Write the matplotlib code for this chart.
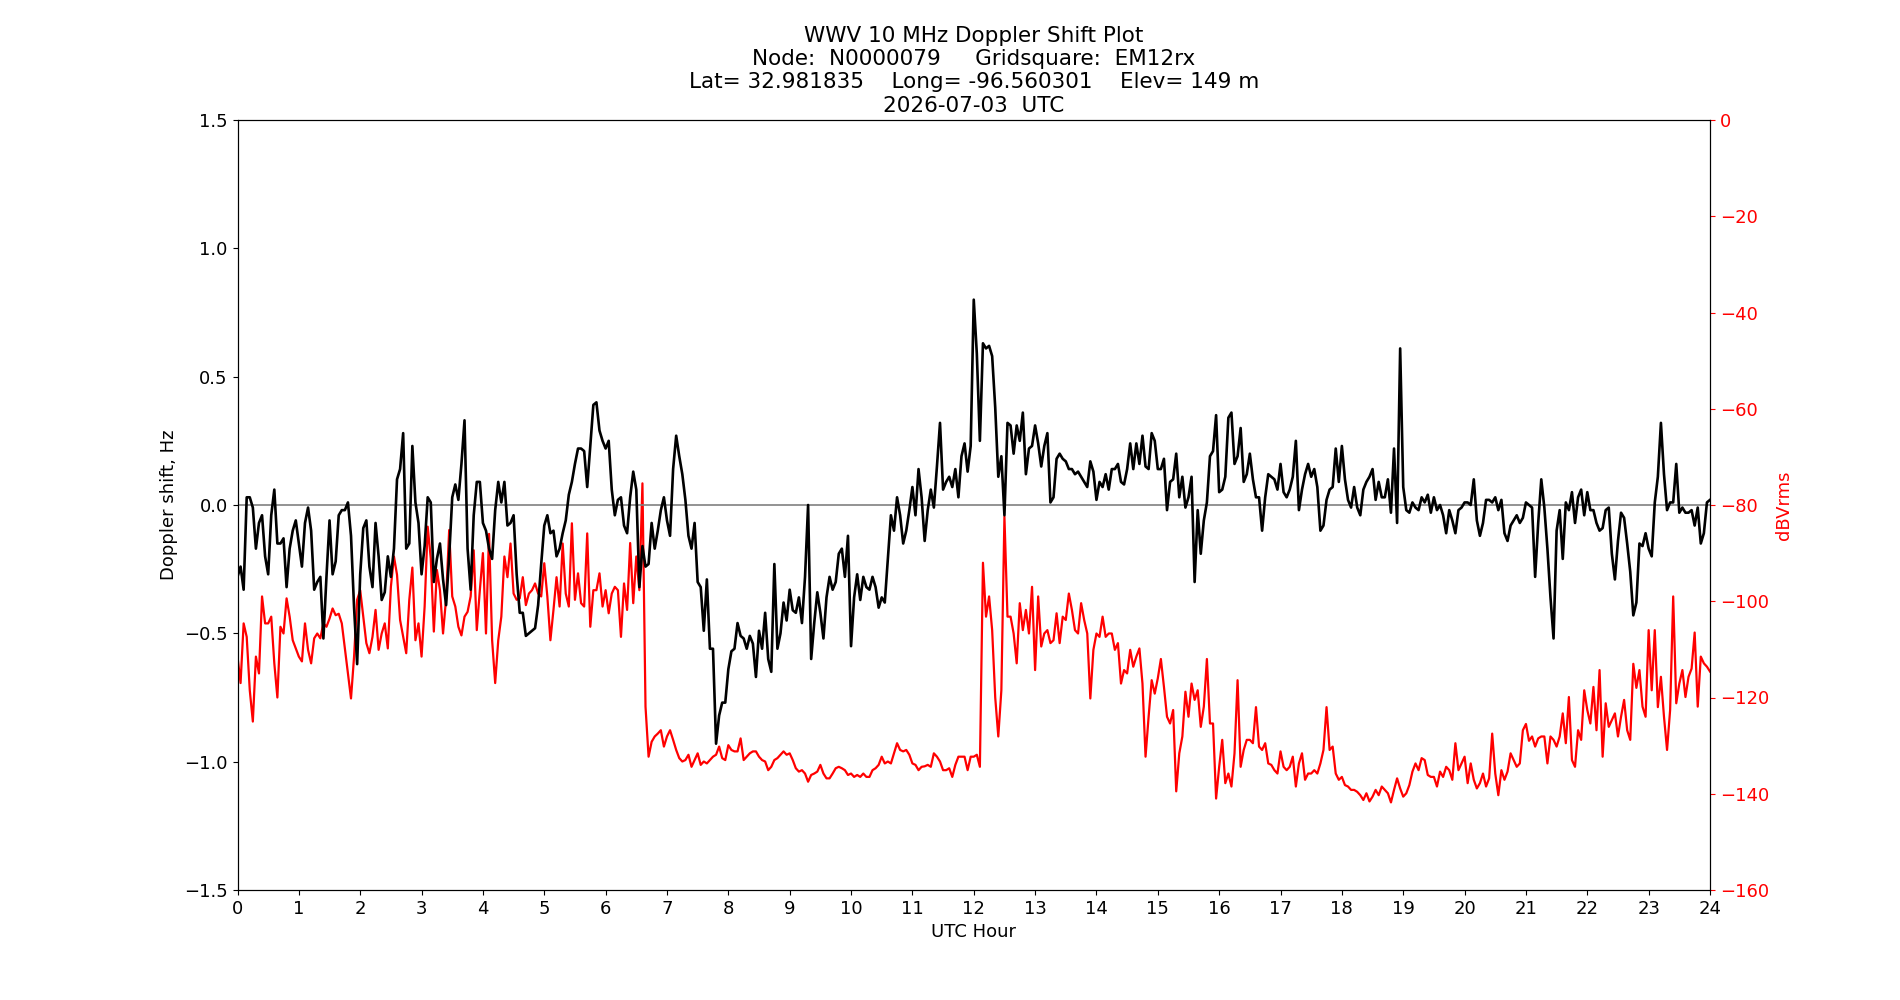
import matplotlib
matplotlib.use("Agg")
import matplotlib.pyplot as plt
import numpy as np

# UTC hour grid, one reading every 0.05 h (3 minutes)
hours = np.round(np.arange(0, 481) * 0.05, 2)

# Doppler shift, Hz
doppler = [
    # 0 - 3 h
    -0.28, -0.24, -0.33, 0.03, 0.03, -0.01, -0.17, -0.07, -0.04, -0.20,
    -0.27, -0.04, 0.06, -0.15, -0.15, -0.13, -0.32, -0.17, -0.10, -0.06,
    -0.15, -0.24, -0.07, -0.01, -0.10, -0.33, -0.30, -0.28, -0.52, -0.28,
    -0.06, -0.27, -0.22, -0.04, -0.02, -0.02, 0.01, -0.12, -0.40, -0.62,
    -0.27, -0.09, -0.06, -0.24, -0.32, -0.07, -0.20, -0.37, -0.34, -0.20,
    -0.28, -0.17, 0.10, 0.14, 0.28, -0.17, -0.15, 0.23, 0.01, -0.07,
    # 3 - 6 h
    -0.27, -0.16, 0.03, 0.01, -0.30, -0.21, -0.15, -0.29, -0.39, -0.20,
    0.03, 0.08, 0.02, 0.16, 0.33, -0.17, -0.33, -0.04, 0.09, 0.09,
    -0.07, -0.10, -0.17, -0.21, -0.02, 0.09, 0.01, 0.09, -0.08, -0.07,
    -0.04, -0.27, -0.42, -0.42, -0.51, -0.50, -0.49, -0.48, -0.39, -0.23,
    -0.08, -0.04, -0.11, -0.10, -0.20, -0.17, -0.11, -0.06, 0.04, 0.09,
    0.16, 0.22, 0.22, 0.21, 0.07, 0.23, 0.39, 0.40, 0.29, 0.25,
    # 6 - 9 h
    0.22, 0.25, 0.06, -0.04, 0.02, 0.03, -0.08, -0.11, 0.03, 0.13,
    0.06, -0.32, -0.16, -0.24, -0.23, -0.07, -0.17, -0.10, -0.02, 0.03,
    -0.06, -0.12, 0.14, 0.27, 0.19, 0.12, 0.02, -0.12, -0.17, -0.07,
    -0.30, -0.32, -0.49, -0.29, -0.56, -0.56, -0.93, -0.82, -0.77, -0.77,
    -0.64, -0.57, -0.56, -0.46, -0.51, -0.52, -0.56, -0.51, -0.54, -0.67,
    -0.49, -0.56, -0.42, -0.60, -0.65, -0.23, -0.56, -0.50, -0.38, -0.45,
    # 9 - 12 h
    -0.33, -0.41, -0.42, -0.36, -0.46, -0.28, 0.00, -0.60, -0.46, -0.34,
    -0.42, -0.52, -0.36, -0.28, -0.33, -0.30, -0.19, -0.17, -0.28, -0.12,
    -0.55, -0.36, -0.27, -0.37, -0.28, -0.32, -0.33, -0.28, -0.32, -0.40,
    -0.36, -0.38, -0.21, -0.04, -0.10, 0.03, -0.04, -0.15, -0.10, -0.02,
    0.07, -0.04, 0.14, 0.03, -0.14, -0.02, 0.06, -0.01, 0.15, 0.32,
    0.06, 0.09, 0.11, 0.07, 0.14, 0.03, 0.19, 0.24, 0.13, 0.23,
    # 12 - 15 h
    0.80, 0.59, 0.25, 0.63, 0.61, 0.62, 0.58, 0.38, 0.11, 0.19,
    -0.04, 0.32, 0.31, 0.20, 0.31, 0.25, 0.36, 0.12, 0.22, 0.23,
    0.31, 0.24, 0.15, 0.23, 0.28, 0.01, 0.03, 0.18, 0.20, 0.18,
    0.17, 0.14, 0.14, 0.12, 0.13, 0.11, 0.09, 0.07, 0.17, 0.13,
    0.02, 0.09, 0.07, 0.12, 0.06, 0.14, 0.14, 0.16, 0.09, 0.08,
    0.14, 0.24, 0.14, 0.24, 0.16, 0.27, 0.15, 0.14, 0.28, 0.25,
    # 15 - 18 h
    0.14, 0.14, 0.18, -0.02, 0.09, 0.10, 0.20, 0.03, 0.11, -0.01,
    0.03, 0.11, -0.30, -0.02, -0.19, -0.06, 0.01, 0.19, 0.21, 0.35,
    0.05, 0.06, 0.11, 0.34, 0.36, 0.16, 0.19, 0.30, 0.09, 0.12,
    0.20, 0.10, 0.03, 0.03, -0.10, 0.03, 0.12, 0.11, 0.10, 0.06,
    0.16, 0.05, 0.03, 0.06, 0.11, 0.25, -0.02, 0.06, 0.12, 0.16,
    0.11, 0.14, 0.07, -0.10, -0.08, 0.02, 0.06, 0.07, 0.22, 0.09,
    # 18 - 21 h
    0.23, 0.10, 0.02, -0.01, 0.07, -0.01, -0.04, 0.06, 0.09, 0.11,
    0.14, 0.02, 0.09, 0.03, 0.03, 0.10, -0.03, 0.22, -0.07, 0.61,
    0.07, -0.02, -0.03, 0.01, -0.01, -0.02, 0.03, 0.01, 0.04, -0.03,
    0.03, -0.02, 0.00, -0.04, -0.11, -0.02, -0.06, -0.11, -0.02, -0.01,
    0.01, 0.01, 0.00, 0.10, -0.06, -0.12, -0.07, 0.02, 0.02, 0.01,
    0.03, -0.02, 0.02, -0.11, -0.14, -0.08, -0.06, -0.04, -0.07, -0.05,
    # 21 - 24 h
    0.01, 0.00, -0.01, -0.28, -0.07, 0.10, -0.01, -0.17, -0.36, -0.52,
    -0.10, -0.02, -0.21, 0.01, -0.02, 0.05, -0.07, 0.03, 0.06, -0.04,
    0.05, -0.02, -0.02, -0.07, -0.10, -0.09, -0.02, -0.01, -0.19, -0.29,
    -0.14, -0.03, -0.05, -0.15, -0.26, -0.43, -0.38, -0.15, -0.16, -0.11,
    -0.17, -0.20, 0.01, 0.11, 0.32, 0.12, -0.02, 0.01, 0.01, 0.16,
    -0.03, -0.01, -0.03, -0.03, -0.02, -0.08, -0.01, -0.15, -0.11, 0.01,
    0.02,
]

# received signal level, dBVrms
level = [
    # 0 - 3 h
    -111.5, -117.0, -104.6, -107.4, -118.5, -125.0, -111.5, -115.0, -99.0, -104.6,
    -104.6, -103.2, -112.9, -120.0, -105.3, -106.7, -99.4, -103.2, -108.1, -109.8,
    -111.5, -112.5, -104.6, -110.1, -112.9, -107.7, -106.7, -107.7, -104.6, -105.3,
    -103.6, -101.5, -102.9, -102.6, -104.6, -109.8, -115.0, -120.2, -111.5, -99.7,
    -97.7, -103.2, -108.7, -110.8, -107.4, -101.8, -110.1, -106.7, -104.6, -109.8,
    -97.0, -90.7, -94.5, -103.9, -107.4, -110.8, -99.7, -93.0, -108.1, -104.6,
    # 3 - 6 h
    -111.5, -101.1, -84.5, -91.1, -106.3, -93.5, -97.7, -106.7, -99.4, -85.2,
    -99.0, -101.1, -105.3, -107.1, -103.2, -102.2, -99.0, -89.4, -106.0, -97.7,
    -90.0, -106.7, -86.0, -108.1, -117.0, -108.1, -103.2, -90.7, -95.0, -88.0,
    -98.4, -99.7, -99.4, -95.0, -100.8, -98.4, -97.7, -96.3, -98.4, -99.0,
    -92.1, -99.0, -108.1, -101.8, -95.0, -101.1, -88.0, -98.4, -101.1, -83.8,
    -99.7, -94.2, -100.4, -101.1, -85.9, -105.3, -97.7, -97.7, -94.2, -101.1,
    # 6 - 9 h
    -97.7, -102.5, -98.4, -97.0, -97.7, -107.4, -96.3, -101.8, -87.9, -100.4,
    -90.7, -97.7, -75.5, -121.9, -132.3, -129.2, -128.1, -127.5, -126.8, -130.2,
    -128.1, -126.8, -128.8, -130.9, -132.6, -133.3, -133.0, -131.9, -134.4, -133.0,
    -131.6, -134.0, -133.3, -133.7, -133.0, -132.3, -131.9, -130.2, -132.6, -133.0,
    -129.9, -130.9, -131.2, -131.2, -128.5, -133.0, -132.3, -131.6, -131.2, -131.2,
    -132.3, -133.0, -133.3, -135.1, -134.4, -133.0, -132.6, -131.9, -131.2, -131.9,
    # 9 - 12 h
    -131.6, -133.0, -134.7, -135.4, -135.1, -135.8, -137.5, -136.1, -135.8, -135.4,
    -134.0, -135.8, -136.8, -136.8, -135.8, -134.7, -134.4, -134.7, -135.1, -136.1,
    -135.8, -136.5, -136.1, -136.5, -135.8, -136.5, -136.5, -135.1, -134.7, -134.0,
    -132.3, -133.7, -133.3, -133.7, -131.6, -129.5, -130.9, -131.2, -130.9, -131.9,
    -133.7, -134.0, -135.1, -134.4, -134.3, -134.0, -134.4, -131.6, -132.3, -133.3,
    -135.1, -135.1, -134.7, -136.5, -134.0, -132.3, -132.3, -132.3, -135.1, -132.3,
    # 12 - 15 h
    -132.3, -131.9, -134.4, -92.0, -103.2, -99.0, -106.0, -120.0, -128.1, -118.5,
    -82.4, -103.2, -103.2, -106.7, -112.9, -100.4, -106.0, -101.8, -106.7, -97.0,
    -114.3, -99.0, -109.4, -106.7, -106.0, -108.7, -108.1, -102.5, -108.7, -103.2,
    -103.9, -98.4, -101.8, -106.0, -106.7, -100.4, -103.9, -106.7, -120.2, -110.1,
    -106.7, -107.4, -103.2, -107.4, -106.7, -106.7, -110.1, -108.7, -117.1, -114.3,
    -115.0, -110.1, -113.6, -111.5, -109.8, -117.1, -132.3, -124.0, -116.4, -119.2,
    # 15 - 18 h
    -116.0, -112.0, -117.8, -124.0, -125.4, -122.6, -139.5, -131.6, -128.1, -118.8,
    -124.0, -117.1, -120.5, -118.5, -126.1, -121.9, -112.0, -125.4, -125.4, -141.0,
    -134.4, -128.8, -137.8, -135.8, -138.5, -131.6, -116.4, -134.4, -130.9, -128.8,
    -128.8, -129.5, -122.0, -130.2, -130.9, -129.5, -133.7, -134.0, -135.1, -135.8,
    -131.2, -134.4, -135.1, -134.4, -132.3, -138.5, -133.7, -131.6, -137.1, -135.8,
    -135.8, -135.1, -135.8, -133.7, -130.9, -122.0, -130.9, -130.2, -135.8, -137.1,
    # 18 - 21 h
    -136.5, -138.2, -138.5, -139.2, -139.2, -139.6, -140.3, -141.3, -139.9, -141.6,
    -140.6, -139.2, -140.3, -138.5, -139.2, -139.9, -141.8, -139.2, -136.8, -138.9,
    -140.6, -139.9, -138.2, -135.4, -133.7, -135.1, -132.6, -133.0, -136.1, -136.5,
    -136.5, -138.5, -135.4, -136.5, -134.4, -135.1, -137.1, -129.5, -135.1, -133.7,
    -132.3, -137.8, -133.7, -137.1, -138.9, -137.8, -135.8, -138.5, -136.8, -127.5,
    -135.8, -140.3, -135.1, -137.1, -135.4, -131.6, -133.0, -134.4, -133.7, -126.8,
    # 21 - 24 h
    -125.5, -129.0, -128.1, -130.2, -128.5, -128.1, -128.1, -133.7, -128.1, -128.8,
    -130.2, -128.1, -123.3, -129.5, -119.9, -133.0, -134.4, -126.8, -128.8, -118.5,
    -122.6, -125.4, -117.8, -126.8, -114.3, -132.3, -121.2, -126.1, -124.7, -123.3,
    -128.1, -124.0, -120.5, -126.8, -128.8, -113.0, -118.0, -114.3, -121.9, -124.0,
    -106.0, -118.5, -106.0, -122.0, -115.7, -124.0, -130.9, -122.6, -99.0, -121.2,
    -117.1, -114.3, -119.9, -115.7, -114.0, -106.5, -121.9, -111.5, -112.9, -113.6,
    -114.6,
]

title = ("WWV 10 MHz Doppler Shift Plot\n"
         "Node:  N0000079     Gridsquare:  EM12rx\n"
         "Lat= 32.981835    Long= -96.560301    Elev= 149 m\n"
         "2026-07-03  UTC")

plt.rcParams['font.size'] = 13

fig, ax = plt.subplots(figsize=(19, 10), dpi=100)
ax2 = ax.twinx()

ax2.plot(hours, level, color='red', linewidth=1.6)
ax2.set_ylim(-160, 0)
ax2.set_ylabel("dBVrms", color='red')
ax2.tick_params(axis='y', colors='red')

ax.axhline(0, color='gray', linewidth=1.2)
ax.plot(hours, doppler, color='black', linewidth=1.9)
ax.set_xlim(0, 24)
ax.set_ylim(-1.5, 1.5)
ax.set_xticks(range(0, 25))
ax.set_xlabel("UTC Hour")
ax.set_ylabel("Doppler shift, Hz")
ax.set_title(title, fontsize=15.5)

# keep the doppler trace above the level trace
ax.set_zorder(ax2.get_zorder() + 1)
ax.patch.set_visible(False)

fig.savefig("out.png")
